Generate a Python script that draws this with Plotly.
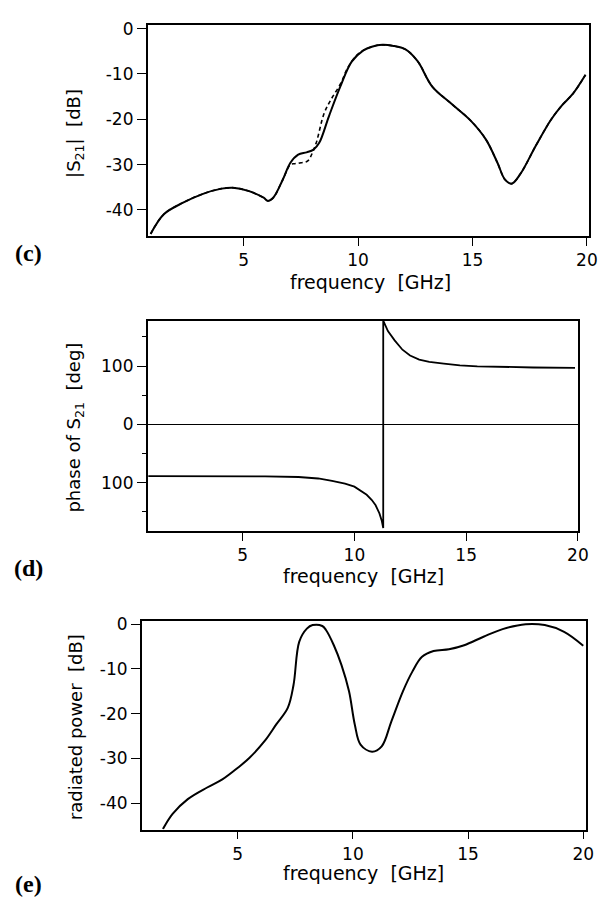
import plotly.graph_objects as go

# ---------------- data ----------------
# (c) |S21| [dB]  - measured (solid) and computed (dashed)
freq_c = [0.93, 1.52, 2.35, 3.19, 4.03, 4.53, 5.2, 5.87, 6.05, 6.29, 6.71, 7.04, 7.38, 7.75,
          8.05, 8.3, 8.72, 9.22, 9.72, 10.23, 10.6, 11.06, 11.5, 12.07, 12.6, 13.24, 14.08,
          14.92, 15.59, 16.09, 16.42, 16.71, 17.1, 17.76, 18.43, 18.9, 19.4, 19.94]
s21_meas = [-45.3, -40.9, -38.4, -36.5, -35.3, -35.1, -35.8, -37.3, -38.0, -37.3, -33.3, -29.6,
            -27.8, -27.3, -26.7, -25.2, -19.4, -12.8, -7.3, -4.8, -4.0, -3.6, -3.8, -4.6,
            -7.2, -12.8, -16.6, -20.3, -24.5, -29.6, -33.3, -34.2, -32.0, -25.9, -20.1,
            -17.0, -14.3, -10.2]
freq_c_calc = [0.93, 1.52, 2.35, 3.19, 4.03, 4.53, 5.2, 5.87, 6.05, 6.29, 6.71, 7.04, 7.23, 7.5,
               7.8, 8.0, 8.17, 8.52, 8.81, 9.24, 9.53, 9.89, 10.23, 10.6, 11.06, 11.5, 12.07,
               12.6, 13.24, 14.08, 14.92, 15.59, 16.09, 16.42, 16.71, 17.1, 17.76, 18.43,
               18.9, 19.4, 19.94]
s21_calc = [-45.3, -40.9, -38.4, -36.5, -35.3, -35.1, -35.8, -37.3, -38.0, -37.3, -33.3, -30.0,
            -29.8, -29.6, -29.2, -27.4, -25.2, -18.6, -15.7, -12.1, -8.8, -6.2, -4.8, -4.0,
            -3.6, -3.8, -4.6, -7.2, -12.8, -16.6, -20.3, -24.5, -29.6, -33.3, -34.2, -32.0,
            -25.9, -20.1, -17.0, -14.3, -10.2]

# (d) phase of S21 [deg]
freq_d = [0.78, 2.0, 4.0, 6.0, 7.5, 8.38, 9.0, 9.58, 10.0, 10.26, 10.55, 10.78, 10.95, 11.12,
          11.22, 11.29, 11.29, 11.5, 11.8, 12.15, 12.49, 12.9, 13.35, 14.0, 14.72, 15.5,
          16.43, 18.0, 19.87]
phase_d = [-89, -89, -89, -89.5, -90.5, -93, -97, -102, -107, -113, -121, -130, -139, -153,
           -165, -178, 178, 160, 144, 128, 118, 111, 107, 104, 101, 99.5, 98.4, 97.5, 96.7]

# (e) radiated power [dB]
freq_e = [1.75, 2.17, 2.83, 3.67, 4.33, 5.0, 5.5, 6.17, 6.67, 7.17, 7.42, 7.67, 8.0, 8.25,
          8.67, 8.83, 9.17, 9.5, 9.83, 10.08, 10.33, 10.83, 11.25, 11.67, 12.17, 12.58, 13.0,
          13.5, 14.17, 14.83, 15.67, 16.5, 17.5, 18.33, 19.17, 20.0]
power_e = [-45.8, -42.4, -39.1, -36.5, -34.7, -32.1, -29.9, -26.1, -22.4, -18.7, -13.6, -3.9,
           -1.0, -0.2, -0.4, -1.3, -4.7, -9.1, -15.0, -22.4, -26.9, -28.5, -27.3, -21.7,
           -15.0, -10.6, -7.3, -6.0, -5.6, -4.7, -2.8, -1.1, 0.0, -0.2, -1.7, -4.8]

x_ticks = [5, 10, 15, 20]
x_ticktext = ["5", "10", "15", "20"]
db_yticks = [0, -10, -20, -30, -40]
db_yticktext = ["0", "-10", "-20", "-30", "-40"]
d_yticks = [100, 0, -100]
d_yticktext = ["100", "0", "100"]
d_minor = [150, 50, -50, -150]

# page has an 8px body margin: figure occupies page pixels 8..610, 8..899
OFF = 8
W, H = 610 - OFF, 899 - OFF
FONT = "DejaVu Sans, Liberation Sans, Arial, sans-serif"


def px(x):
    return (x - OFF) / W


def py(y):
    return 1 - (y - OFF) / H


fig = go.Figure()
line = dict(color="black", width=2)
fig.add_trace(go.Scatter(x=freq_c_calc, y=s21_calc, mode="lines", xaxis="x", yaxis="y",
                         line=dict(color="black", width=1.6, dash="4px,3px"), line_shape="spline"))
fig.add_trace(go.Scatter(x=freq_c, y=s21_meas, mode="lines", xaxis="x", yaxis="y",
                         line=line, line_shape="spline"))
fig.add_trace(go.Scatter(x=freq_d, y=phase_d, mode="lines", xaxis="x2", yaxis="y2",
                         line=dict(color="black", width=1.8)))
fig.add_trace(go.Scatter(x=freq_e, y=power_e, mode="lines", xaxis="x3", yaxis="y3",
                         line=line, line_shape="spline"))

base = dict(showline=True, linecolor="black", linewidth=1.5, mirror=True, showgrid=False,
            ticks="outside", tickwidth=1.2, tickcolor="black",
            tickfont=dict(family=FONT, size=17, color="black"))
xax = dict(ticklen=8, tickvals=x_ticks, ticktext=x_ticktext, zeroline=False, **base)
yax = dict(ticklen=9, **base)

fig.update_layout(
    width=W, height=H, margin=dict(l=0, r=0, t=0, b=0),
    paper_bgcolor="white", plot_bgcolor="white", showlegend=False,
    xaxis=dict(domain=[px(150), px(599)], range=[0.8, 20.1], anchor="y", **xax),
    yaxis=dict(domain=[py(231), py(18)], range=[-45.8, 0.8], tickvals=db_yticks,
               ticktext=db_yticktext, anchor="x", zeroline=False, **yax),
    xaxis2=dict(domain=[px(150), px(588)], range=[0.75, 20.02], anchor="y2", **xax),
    yaxis2=dict(domain=[py(528), py(316)], range=[-183, 178], tickvals=d_yticks,
                ticktext=d_yticktext, anchor="x2",
                minor=dict(tickvals=d_minor, ticks="outside", ticklen=4, tickcolor="black"),
                zeroline=True, zerolinecolor="black", zerolinewidth=1.2, **yax),
    xaxis3=dict(domain=[px(144), px(596)], range=[0.83, 20.13], anchor="y3", **xax),
    yaxis3=dict(domain=[py(829), py(619)], range=[-45.9, 0.67], tickvals=db_yticks,
                ticktext=db_yticktext, anchor="x3", zeroline=False, **yax),
)

ann = []
for xc, yc in [(377, 277), (369, 573), (370, 873)]:
    ann.append(dict(x=px(xc), y=py(yc), xref="paper", yref="paper", showarrow=False,
                    text="frequency  [GHz]", font=dict(family=FONT, size=19, color="black"),
                    xanchor="center", yanchor="middle"))
for txt, yc in [("|S<sub>21</sub>|  [dB]", 127), ("phase of S<sub>21</sub>  [deg]", 424),
                ("radiated power  [dB]", 726)]:
    ann.append(dict(x=px(76), y=py(yc), xref="paper", yref="paper", showarrow=False,
                    text=txt, textangle=-90, font=dict(family=FONT, size=18, color="black"),
                    xanchor="center", yanchor="middle"))
for txt, yc in [("(c)", 248), ("(d)", 565), ("(e)", 884)]:
    ann.append(dict(x=px(29), y=py(yc), xref="paper", yref="paper", showarrow=False,
                    text="<b>" + txt + "</b>",
                    font=dict(family="Liberation Serif, Times New Roman, serif", size=24,
                              color="black"),
                    xanchor="center", yanchor="middle"))
fig.update_layout(annotations=ann)

fig.write_html("out.html")
